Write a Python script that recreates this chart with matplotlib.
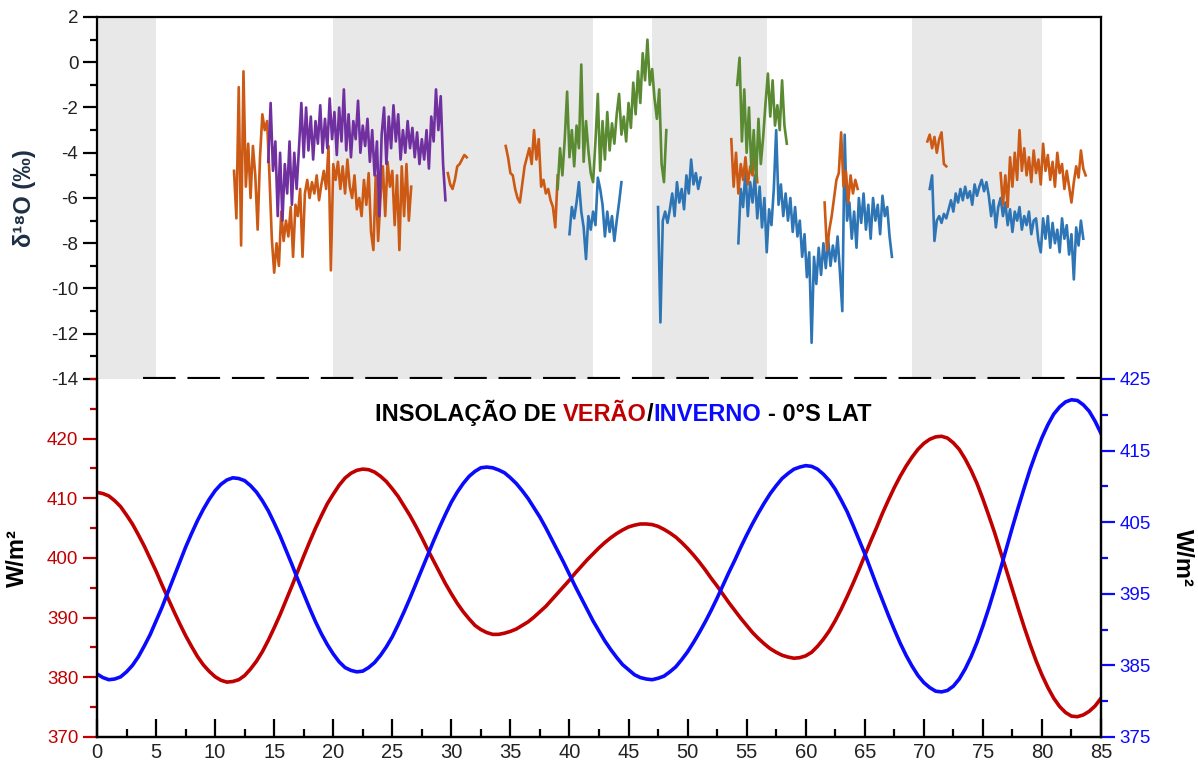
import numpy as np
import matplotlib
matplotlib.use("Agg")
import matplotlib.pyplot as plt
from matplotlib.ticker import MultipleLocator
from matplotlib.offsetbox import TextArea, HPacker, AnchoredOffsetbox

plt.rcParams['font.family'] = ['Liberation Sans', 'DejaVu Sans']
plt.rcParams['axes.unicode_minus'] = False
plt.rcParams['lines.scale_dashes'] = False

# Insolação 0°S (W/m²), idade em ka (a cada 0.5 ka)
idade_ins = np.linspace(0, 85, 171)
verao = [411.0, 410.8, 410.4, 409.6, 408.6, 407.2, 405.7, 403.9, 402.0, 399.9,
         397.8, 395.5, 393.3, 391.1, 389.0, 387.0, 385.2, 383.5, 382.1, 381.0,
         380.1, 379.5, 379.2, 379.3, 379.6, 380.3, 381.4, 382.7, 384.3, 386.2,
         388.3, 390.5, 392.9, 395.3, 397.8, 400.3, 402.7, 405.0, 407.1, 409.1,
         410.7, 412.2, 413.4, 414.2, 414.7, 414.9, 414.8, 414.4, 413.7, 412.8,
         411.6, 410.3, 408.7, 407.1, 405.3, 403.4, 401.4, 399.5, 397.6, 395.7,
         394.0, 392.4, 391.0, 389.8, 388.7, 388.0, 387.5, 387.2, 387.2, 387.4,
         387.7, 388.1, 388.7, 389.3, 390.1, 391.0, 391.9, 393.0, 394.1, 395.2,
         396.3, 397.5, 398.6, 399.7, 400.7, 401.7, 402.6, 403.4, 404.1, 404.7,
         405.2, 405.5, 405.7, 405.7, 405.6, 405.3, 404.8, 404.2, 403.5, 402.6,
         401.6, 400.5, 399.3, 398.0, 396.6, 395.3, 393.9, 392.5, 391.2, 389.9,
         388.7, 387.5, 386.5, 385.6, 384.8, 384.2, 383.7, 383.4, 383.2, 383.3,
         383.6, 384.2, 385.2, 386.4, 387.8, 389.5, 391.4, 393.5, 395.7, 398.0,
         400.4, 402.8, 405.1, 407.5, 409.7, 411.8, 413.7, 415.4, 416.9, 418.2,
         419.2, 419.9, 420.3, 420.4, 420.1, 419.3, 418.2, 416.6, 414.7, 412.5,
         409.9, 407.1, 404.2, 401.0, 397.9, 394.7, 391.5, 388.4, 385.5, 382.8,
         380.4, 378.3, 376.5, 375.1, 374.1, 373.5, 373.4, 373.7, 374.3, 375.2,
         376.5]
inverno = [383.8, 383.3, 383.0, 383.1, 383.4, 384.1, 385.0, 386.2, 387.7, 389.3,
           391.2, 393.1, 395.2, 397.3, 399.4, 401.5, 403.4, 405.2, 406.8, 408.2,
           409.4, 410.3, 410.9, 411.2, 411.1, 410.8, 410.1, 409.2, 408.0, 406.6,
           404.9, 403.1, 401.1, 399.1, 397.0, 395.0, 393.0, 391.1, 389.4, 387.9,
           386.6, 385.5, 384.7, 384.3, 384.1, 384.2, 384.7, 385.4, 386.4, 387.6,
           389.0, 390.7, 392.5, 394.4, 396.4, 398.4, 400.4, 402.4, 404.3, 406.1,
           407.8, 409.2, 410.4, 411.4, 412.1, 412.6, 412.7, 412.6, 412.3, 411.9,
           411.2, 410.4, 409.4, 408.3, 407.0, 405.7, 404.2, 402.6, 401.0, 399.4,
           397.7, 396.0, 394.4, 392.8, 391.2, 389.8, 388.4, 387.2, 386.1, 385.1,
           384.4, 383.7, 383.3, 383.1, 383.0, 383.2, 383.5, 384.1, 384.8, 385.8,
           386.9, 388.2, 389.6, 391.1, 392.7, 394.4, 396.2, 398.0, 399.7, 401.5,
           403.2, 404.8, 406.3, 407.7, 409.0, 410.1, 411.1, 411.8, 412.4, 412.7,
           412.9, 412.8, 412.4, 411.7, 410.8, 409.6, 408.1, 406.5, 404.6, 402.6,
           400.6, 398.4, 396.2, 394.1, 392.0, 390.0, 388.1, 386.4, 384.9, 383.6,
           382.6, 381.9, 381.4, 381.3, 381.5, 382.1, 383.1, 384.5, 386.2, 388.2,
           390.5, 393.0, 395.7, 398.5, 401.4, 404.3, 407.1, 409.8, 412.4, 414.7,
           416.8, 418.6, 420.1, 421.1, 421.8, 422.1, 422.0, 421.4, 420.5, 419.1,
           417.4]

# Registros de d18O: idade inicial (ka) e valores a cada 0.2 ka
PASSO = 0.2
laranja_1_ini = 11.6
laranja_1 = [-4.8, -6.9, -1.1, -8.1, -0.4, -5.5, -3.6, -6.0, -3.7, -5.0,
             -7.4, -4.2, -2.3, -3.0, -2.6, -5.0, -7.8, -9.3, -8.0, -9.0,
             -6.6, -7.9, -7.0, -7.7, -6.4, -8.6, -6.3, -6.8, -5.6, -8.6,
             -5.8, -5.2, -6.0, -5.3, -5.8, -5.0, -6.1, -5.4, -4.8, -5.6,
             -3.7, -9.2, -4.5, -5.2, -4.4, -5.6, -4.6, -5.8, -4.3, -5.5,
             -6.0, -5.0, -6.5, -6.0, -6.8, -5.2, -6.3, -4.9, -7.5, -8.3,
             -5.0, -7.9, -6.0, -4.6, -6.8, -4.4, -5.5, -4.8, -7.2, -5.0,
             -8.3, -4.6, -6.8, -4.5, -7.0, -5.5]
roxo_ini = 14.5
roxo = [-4.4, -1.8, -4.8, -3.5, -6.8, -4.0, -7.0, -4.5, -5.8, -3.5,
        -6.3, -4.0, -5.6, -3.8, -1.8, -4.2, -2.0, -3.9, -2.4, -4.3,
        -2.6, -3.6, -1.9, -4.0, -2.5, -3.8, -1.6, -3.4, -2.2, -4.1,
        -2.0, -3.5, -1.2, -3.9, -2.3, -4.2, -2.6, -3.4, -1.7, -4.0,
        -2.8, -3.7, -2.5, -4.4, -3.0, -5.0, -3.5, -6.8, -3.2, -2.0,
        -4.5, -2.4, -3.8, -1.9, -3.5, -2.3, -4.3, -3.0, -4.0, -2.6,
        -3.8, -2.9, -4.2, -3.1, -4.5, -3.4, -4.3, -3.0, -4.7, -2.4,
        -3.5, -1.2, -3.0, -1.5, -4.5, -6.1]
laranja_2_ini = 29.7
laranja_2 = [-4.9, -5.4, -5.6, -5.2, -4.6, -4.5, -4.3, -4.1, -4.2]
laranja_3_ini = 34.6
laranja_3 = [-3.7, -4.2, -4.9, -5.0, -5.6, -6.0, -6.2, -5.4, -4.6, -4.2,
             -3.8, -4.5, -3.0, -4.3, -3.4, -5.5, -5.2, -5.8, -5.6, -6.1,
             -6.4, -7.3, -5.0]
verde_1_ini = 39.0
verde_1 = [-5.6, -3.8, -5.0, -3.4, -1.3, -4.2, -3.0, -4.6, -2.8, -3.8,
           -0.1, -4.4, -2.6, -3.9, -4.9, -5.3, -3.5, -1.4, -4.8, -2.6,
           -4.3, -2.2, -3.9, -2.7, -3.6, -2.3, -1.4, -3.2, -2.4, -3.5,
           -1.8, -2.9, -0.9, -2.3, -0.4, -1.8, 0.4, -0.8, 1.0, -1.0,
           -0.3, -1.6, -2.5, -1.2, -4.5, -5.3, -3.0]
azul_1_ini = 40.0
azul_1 = [-7.6, -6.4, -6.9, -6.2, -5.3, -6.6, -7.3, -8.7, -6.8, -7.4,
          -6.6, -7.2, -5.1, -5.6, -6.3, -7.7, -6.6, -7.5, -6.8, -7.9,
          -7.0, -6.2, -5.3]
azul_2_ini = 47.5
azul_2 = [-6.4, -11.5, -7.0, -6.6, -7.1, -6.5, -5.8, -6.8, -5.3, -6.2,
          -5.6, -6.5, -5.0, -5.8, -4.3, -5.4, -4.9, -5.6, -5.1]
laranja_4_ini = 53.7
laranja_4 = [-3.4, -5.5, -4.0, -5.8, -4.5, -5.2, -4.2, -5.4, -4.6, -5.0,
             -4.0, -5.3]
verde_2_ini = 54.2
verde_2 = [-1.0, 0.2, -3.5, -1.2, -4.0, -2.0, -4.8, -3.0, -5.2, -2.5,
           -4.5, -3.3, -1.8, -0.5, -2.4, -0.8, -2.8, -1.9, -3.0, -0.8,
           -2.8, -3.6]
azul_3_ini = 54.3
azul_3 = [-8.0, -5.6, -6.4, -4.8, -6.8, -5.3, -6.2, -5.0, -6.9, -5.5,
          -7.3, -6.0, -8.4, -6.5, -7.2, -5.6, -3.0, -6.3, -5.4, -6.8,
          -5.8, -7.0, -6.0, -7.5, -6.4, -7.7, -7.0, -8.6, -7.6, -9.5,
          -8.4, -12.4, -8.6, -9.8, -8.2, -9.4, -8.0, -9.1, -7.8, -9.0,
          -8.1, -8.8, -7.7, -9.3, -11.0, -3.2, -7.0, -6.2, -7.8, -6.6,
          -8.2, -6.0, -7.1, -5.8, -7.4, -6.3, -7.8, -6.0, -7.0, -6.3,
          -7.6, -5.9, -6.8, -6.4, -7.7, -8.6]
laranja_5_ini = 61.6
laranja_5 = [-6.2, -8.3, -7.4, -6.8, -6.0, -5.2, -4.9, -3.1, -5.5, -4.8,
             -6.2, -5.0, -5.8, -5.2, -5.6]
laranja_6_ini = 70.3
laranja_6 = [-3.5, -3.2, -3.8, -3.3, -4.0, -3.4, -3.1, -4.5, -4.6]
azul_4_ini = 70.5
azul_4 = [-5.6, -5.0, -7.9, -7.0, -6.8, -7.1, -6.7, -6.9, -6.5, -6.1,
          -6.6, -5.8, -6.2, -5.6, -6.1, -5.5, -6.0, -5.7, -6.3, -5.4,
          -5.9, -5.5, -5.2, -5.7, -5.3, -5.9, -6.8, -6.1, -7.3, -6.4,
          -6.0, -6.8, -6.2, -7.2, -6.5, -7.5, -6.6, -7.0, -6.4, -7.4,
          -6.8, -7.2, -6.6, -7.6, -7.0, -6.9, -7.9, -8.4, -6.9, -7.8,
          -6.8, -8.2, -7.1, -8.0, -7.4, -8.4, -6.9, -7.8, -7.2, -8.5,
          -7.6, -9.6, -7.3, -8.1, -7.0, -7.8]
laranja_7_ini = 76.5
laranja_7 = [-4.9, -6.3, -5.0, -6.4, -4.2, -5.5, -4.0, -5.2, -3.0, -4.8,
             -3.8, -5.0, -4.2, -5.3, -3.9, -4.9, -4.3, -5.4, -3.6, -4.8,
             -4.1, -5.2, -4.4, -5.5, -4.0, -4.9, -4.5, -5.6, -4.8, -5.5,
             -6.2, -5.3, -4.6, -5.1, -3.9, -4.7, -5.0]

# Faixas cinzas (ka)
faixas = [(0, 5), (20, 42), (47, 56.7), (69, 80)]

LARANJA = "#cc5a14"
ROXO = "#7030a0"
VERDE = "#5a8a32"
AZUL = "#2e75b6"
VERMELHO = "#c00000"
AZUL_INS = "#0a0aff"

registros = [
    (azul_1_ini, azul_1, AZUL), (azul_2_ini, azul_2, AZUL),
    (azul_3_ini, azul_3, AZUL), (azul_4_ini, azul_4, AZUL),
    (laranja_1_ini, laranja_1, LARANJA), (laranja_2_ini, laranja_2, LARANJA),
    (laranja_3_ini, laranja_3, LARANJA), (laranja_4_ini, laranja_4, LARANJA),
    (laranja_5_ini, laranja_5, LARANJA), (laranja_6_ini, laranja_6, LARANJA),
    (laranja_7_ini, laranja_7, LARANJA),
    (verde_1_ini, verde_1, VERDE), (verde_2_ini, verde_2, VERDE),
    (roxo_ini, roxo, ROXO),
]

fig = plt.figure(figsize=(11.98, 7.63), dpi=100)
ax1 = fig.add_axes([0.08097, 0.50328, 0.83806, 0.47444])
ax2 = fig.add_axes([0.08097, 0.03408, 0.83806, 0.46920])

# ---- painel superior: d18O ----
for a, b in faixas:
    ax1.axvspan(a, b, color="#e8e8e8", lw=0, zorder=0)
for ini, vals, cor in registros:
    x = ini + PASSO * np.arange(len(vals))
    ax1.plot(x, vals, color=cor, lw=1.9, zorder=2)

ax1.set_xlim(0, 85)
ax1.set_ylim(-14, 2)
ax1.yaxis.set_major_locator(MultipleLocator(2))
ax1.yaxis.set_minor_locator(MultipleLocator(1))
ax1.tick_params(axis='x', which='both', bottom=False, labelbottom=False)
ax1.tick_params(axis='y', which='major', direction='out', length=10, width=1.6,
                labelsize=13.5, labelcolor="#222222")
ax1.tick_params(axis='y', which='minor', direction='out', length=5, width=1.6)
for s in ['top', 'left', 'right']:
    ax1.spines[s].set_linewidth(1.6)
ax1.spines['bottom'].set_visible(False)
ax1.axhline(-14, xmin=0.046, xmax=1, color='black', lw=3.0,
            dashes=(23.5, 8.5), zorder=5, clip_on=False)
ax1.set_ylabel("δ¹⁸O (‰)", fontsize=17, fontweight='bold', color="#1c2f44")
ax1.yaxis.set_label_coords(-0.0725, 0.5)
ax1.yaxis.label.set_va('center')

# ---- painel inferior: insolação ----
ax2.plot(idade_ins, verao, color=VERMELHO, lw=2.6)
ax2.set_xlim(0, 85)
ax2.set_ylim(370, 430)
ax3 = ax2.twinx()
ax3.plot(idade_ins, inverno, color=AZUL_INS, lw=2.6)
ax3.set_ylim(375, 425)

ax2.spines['top'].set_visible(False)
ax3.spines['top'].set_visible(False)
for s in ['left', 'right', 'bottom']:
    ax2.spines[s].set_linewidth(1.6)
    ax3.spines[s].set_linewidth(1.6)

ax2.xaxis.set_major_locator(MultipleLocator(5))
ax2.xaxis.set_minor_locator(MultipleLocator(2.5))
ax2.tick_params(axis='x', which='major', direction='in', length=13, width=1.6,
                labelsize=14.5, labelcolor="#222222", pad=4)
ax2.tick_params(axis='x', which='minor', direction='in', length=6, width=1.6)

ax2.yaxis.set_major_locator(MultipleLocator(10))
ax2.yaxis.set_minor_locator(MultipleLocator(5))
ax2.tick_params(axis='y', which='major', direction='out', length=10, width=1.6,
                color=VERMELHO, labelcolor=VERMELHO, labelsize=13.5)
ax2.tick_params(axis='y', which='minor', direction='out', length=5, width=1.6,
                color=VERMELHO)
ax2.set_yticks([370, 380, 390, 400, 410, 420])

ax3.set_yticks([375, 385, 395, 405, 415, 425])
ax3.yaxis.set_minor_locator(MultipleLocator(5))
ax3.tick_params(axis='y', which='major', direction='out', length=10, width=1.6,
                color=AZUL_INS, labelcolor=AZUL_INS, labelsize=13.5)
ax3.tick_params(axis='y', which='minor', direction='out', length=5, width=1.6,
                color=AZUL_INS)

ax2.set_ylabel("W/m²", fontsize=17, fontweight='bold')
ax2.yaxis.set_label_coords(-0.0797, 0.5)
ax2.yaxis.label.set_va('center')
ax3.set_ylabel("W/m²", fontsize=17, fontweight='bold', rotation=-90)
ax3.yaxis.set_label_coords(1.0807, 0.5)
ax3.yaxis.label.set_va('center')

# título com cores
tp = dict(fontsize=17, fontweight='bold')
meio = HPacker(children=[TextArea("VERÃO", textprops=dict(color=VERMELHO, **tp)),
                         TextArea("/", textprops=dict(color='black', **tp)),
                         TextArea("INVERNO", textprops=dict(color=AZUL_INS, **tp))],
               align='baseline', pad=0, sep=0)
titulo = HPacker(children=[TextArea("INSOLAÇÃO DE", textprops=dict(color='black', **tp)),
                           meio,
                           TextArea("- 0°S LAT", textprops=dict(color='black', **tp))],
                 align='baseline', pad=0, sep=4.7)
caixa = AnchoredOffsetbox(loc='center', child=titulo, pad=0, borderpad=0,
                          frameon=False, bbox_to_anchor=(0.524, 0.905),
                          bbox_transform=ax2.transAxes)
ax2.add_artist(caixa)

fig.savefig("out.png", dpi=100)
